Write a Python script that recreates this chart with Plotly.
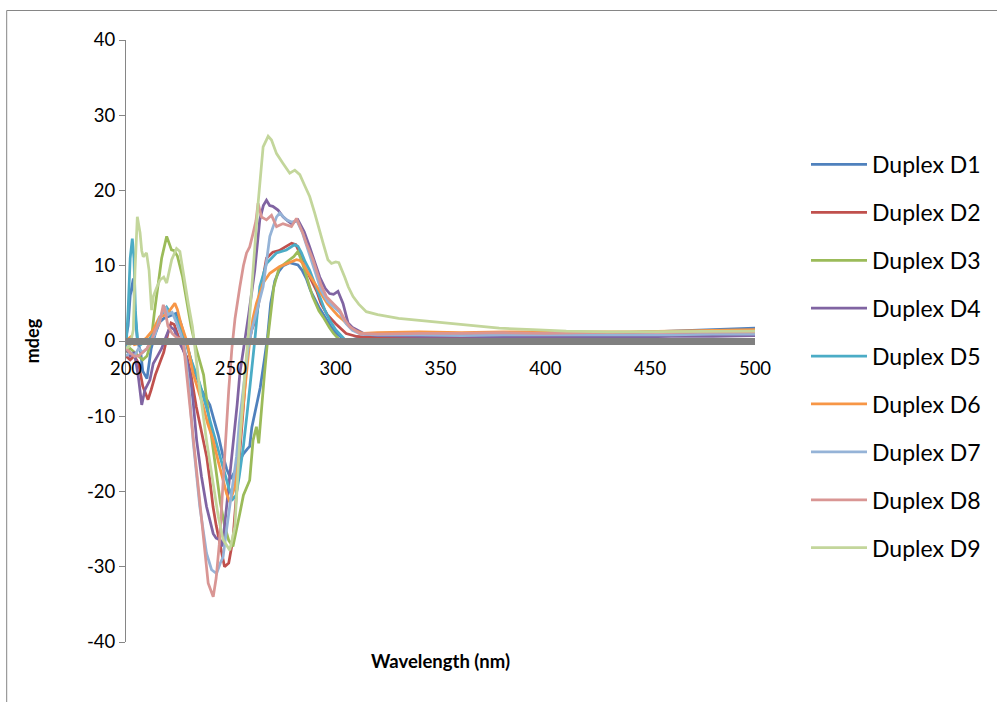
import plotly.graph_objects as go

series_names = ["Duplex D1", "Duplex D2", "Duplex D3", "Duplex D4", "Duplex D5",
                "Duplex D6", "Duplex D7", "Duplex D8", "Duplex D9"]
series_colors = ["#4F81BD", "#C0504D", "#9BBB59", "#8064A2", "#4BACC6",
                 "#F79646", "#95B3D7", "#D99694", "#C3D69B"]

x_ticks = [200, 250, 300, 350, 400, 450, 500]
y_ticks = [-40, -30, -20, -10, 0, 10, 20, 30, 40]

wl_d1 = [200, 201, 202, 203.5, 204.5, 205.5, 207, 208, 210, 211, 212, 214, 216, 218, 220, 222, 224, 226, 228, 230,
         232, 234, 236, 238, 240, 242, 244, 246, 248, 250, 252, 254, 256, 258, 259, 260, 262, 264, 266, 267.5,
         269, 271, 273, 275, 278, 280, 282, 284, 286, 288, 290, 292, 294, 296, 298, 300, 302, 304, 306, 310,
         320, 340, 360, 380, 400, 420, 440, 460, 480, 500]
cd_d1 = [0.5, 2, 6, 8.3, 3, 0, -1.5, -4, -5, -3, -1, 1, 2.5, 3, 3.2, 3.5, 3.7, 2.5, 0.5, -1.5,
         -3.5, -5, -6.5, -7.5, -8.5, -10.5, -12.5, -15, -17, -18.3, -17.3, -16, -15, -14.3, -14, -11.5, -9, -6.2, -2.5, 0.5,
         5, 8, 9.3, 10, 10.4, 10.2, 10.1, 9.4, 8.3, 6.7, 5.5, 4.5, 3.6, 2.7, 1.8, 1.1, 0.6, 0.2, 0.1, 0.3,
         0.5, 0.6, 0.7, 0.8, 0.9, 1.0, 1.1, 1.3, 1.5, 1.7]

wl_d2 = [200, 202, 204, 206, 208, 210.5, 212, 214, 216, 218, 220, 221.5, 223, 225, 227, 229, 231, 233.5, 236, 238.5,
         240, 241.5, 243, 245, 247, 249, 251, 252.5, 253.5, 255, 256, 258, 260, 262, 264, 265.5, 267, 270, 273, 276,
         279, 281, 283, 285, 288, 291, 293, 296, 300, 305, 310, 320, 340, 360, 380, 400, 420, 440, 460, 480, 500]
cd_d2 = [-2, -2.5, -2, -3, -6, -7.8, -6.5, -4.5, -3, -1.5, 1, 2.4, 2.2, 0.5, -1, -2.1, -4.5, -8.7, -12, -15.4,
         -18.5, -22, -24.5, -27.3, -30, -29.5, -26.4, -21, -17.6, -12.5, -8.7, -1, 1.5, 3, 6, 8.5, 11, 11.8, 12, 12.5,
         13, 12.8, 11.6, 10, 8.2, 6.6, 5, 3.5, 2.3, 1.0, 0.6, 0.4, 0.4, 0.5, 0.5, 0.6, 0.7, 0.7, 0.8, 0.9, 1.0]

wl_d3 = [200, 202, 204, 206, 208, 210, 212, 213.5, 215, 217, 219.4, 220.5, 221.7, 223, 224.5, 227, 229, 231, 233, 235,
         237, 239, 241, 243, 245, 247, 249, 251, 252.5, 254.3, 256, 257.5, 259, 260.6, 262.2, 263.3, 264.6, 266, 267.5, 269,
         270.5, 273, 276, 278, 280, 282, 284, 286, 289, 292, 294, 297, 299, 302, 305, 310, 320, 340, 360, 380,
         400, 420, 440, 460, 480, 500]
cd_d3 = [-1.5, -1, -1.5, -2, -2.5, -2, 0, 3.7, 7, 11, 13.9, 13, 12.1, 12, 11.3, 8.5, 5, 2, -0.5, -2.5,
         -4.5, -9, -13, -17.5, -21.5, -24.5, -26.5, -27.3, -25.5, -22.9, -20.5, -19.4, -18.5, -13.2, -11.4, -13.6, -8.7, -4.5, 0, 4,
         7.2, 9.7, 10.4, 10.8, 11.2, 11.9, 10.5, 8.6, 5.9, 4, 3.2, 1.8, 1.0, 0.1, -0.2, -0.2, -0.1, -0.2, -0.1, 0.0,
         -0.1, 0.0, -0.1, 0.0, 0.1, 0.0]

wl_d4 = [200, 202, 204, 206, 207.5, 209, 211.4, 213, 215, 217, 219, 221, 223, 225, 227, 229, 230.5, 232, 233.7, 236,
         238.4, 240, 241.6, 243, 244.8, 246, 248, 249.5, 251, 253, 254.3, 256.7, 258.5, 261.4, 263.8, 265.5, 267, 268.5, 270, 272.5,
         274.9, 277, 278.9, 282, 285, 287.6, 290, 292.4, 295, 297.1, 299, 301.1, 303.5, 305.9, 308, 310, 314, 320, 340, 360,
         380, 400, 420, 440, 460, 480, 500]
cd_d4 = [-1, -2, -1.5, -5, -8.5, -6.5, -5.2, -3, -2, -1, 0.5, 1.9, 1.5, 0, -1, -2.5, -4.3, -8, -13.2, -18,
         -22, -24, -25.6, -26.2, -26.4, -27.3, -22, -17.5, -13.2, -8.5, -4.3, 0, 3.5, 9.4, 16.1, 18, 18.7, 18, 17.9, 17.4,
         16.5, 16, 15.6, 16.1, 14.5, 12.5, 10.5, 8.5, 7, 6.3, 6.2, 6.6, 5, 2.4, 1.8, 1.5, 0.9, 0.7, 0.6, 0.6,
         0.5, 0.5, 0.6, 0.5, 0.6, 0.6, 0.7]

wl_d5 = [200, 201, 202, 203, 203.8, 204.5, 205.5, 207, 209, 211, 213, 215, 217, 219.4, 221, 223, 225, 227, 229, 231,
         233, 235, 237, 239, 241, 243, 245, 247, 249, 251, 252.5, 254, 256, 258, 260, 261.5, 263.8, 267, 271.8, 276.5,
         280.5, 282, 283.7, 285.5, 287.6, 290, 292.4, 295, 297.1, 300, 302, 305, 308, 312, 320, 340, 360, 380, 400, 420,
         440, 460, 480, 500]
cd_d5 = [-1, 4, 11, 13.6, 11, 4, 0, -0.5, 0, 0.2, 1, 2, 3.5, 4.5, 3.8, 3.5, 2.5, 1, -0.5, -2.5,
         -4, -5.5, -7.5, -9.5, -11.5, -13.5, -15.5, -17.5, -19.5, -21, -20.5, -18, -14, -9, -4, 0.3, 7.2, 10.3, 11.7, 12.1,
         12.8, 12.6, 11.7, 10.5, 9.4, 7.6, 5.9, 4, 2.8, 1.5, 0.9, 0, -0.3, -0.3, -0.2, -0.3, -0.2, -0.2, -0.1, -0.2,
         -0.1, -0.1, 0.0, 0.1]

wl_d6 = [200, 202, 204, 206.7, 208, 210, 213, 216, 219.4, 221, 223.3, 224.5, 226, 228, 229, 232, 234.5, 236.8, 239, 241.6,
         244, 246.3, 248, 249.5, 251.9, 254.3, 256.7, 259, 260.5, 262.2, 265.4, 268.6, 273.3, 278.1, 281.3, 283, 284.4, 286.5, 289.2, 291.5,
         293.9, 296, 298.7, 301, 303.5, 306, 308.2, 313, 320, 340, 360, 380, 400, 420, 440, 460, 480, 500]
cd_d6 = [0, 0.5, -0.5, -0.3, 0, 0.5, 1.5, 3.2, 3.5, 4.1, 5.0, 4.2, 2.5, 0.8, 0, -4.3, -6.5, -8.7, -11, -13.2,
         -16, -18.5, -20.3, -21.4, -19.4, -13.2, -6.5, 0, 3, 5, 7.7, 9, 9.9, 10.5, 10.8, 10.7, 10.3, 9.2, 8.1, 7,
         5.9, 5, 4.1, 3.4, 2.8, 2.1, 1.5, 1.0, 1.1, 1.2, 1.1, 1.2, 1.2, 1.1, 1.2, 1.3, 1.4, 1.5]

wl_d7 = [200, 202, 204, 206, 208, 210, 212, 214, 216, 218.6, 220, 222, 224, 226, 228, 230, 232, 233.5, 235.2, 237,
         238.4, 240.8, 243.2, 245, 246.3, 248, 249.5, 251, 252.7, 254, 255.9, 258.2, 260, 262, 265.4, 268.6, 271.8, 273.3, 276.5, 279,
         281.5, 284, 287, 290, 293, 296, 299, 302, 305, 308, 312, 320, 340, 360, 380, 400, 420, 440, 460, 480, 500]
cd_d7 = [-2, -1.5, -2, -1, -1.5, -1, 0, 1, 3, 4.6, 3.5, 3.8, 2.5, 1, -1, -6, -13.2, -17.5, -22, -25.5,
         -28.2, -30.4, -30.9, -29.5, -28.7, -25, -22, -18.5, -15.4, -11, -6.5, -1, 1.5, 3.5, 7.2, 13.9, 16.5, 17, 16.1, 15.8,
         16, 14.5, 12, 9.3, 6.8, 5.3, 4.6, 3.8, 2.3, 1.4, 0.9, 0.8, 0.8, 0.7, 0.8, 0.8, 0.7, 0.8, 0.8, 0.9, 0.9]

wl_d8 = [200, 202, 204, 206, 208, 210, 212, 214, 216, 217.8, 219, 220, 222, 224, 226, 227.3, 230.5, 233.7, 236.8, 239.2,
         241.6, 243, 244.5, 246, 247.5, 249, 250.5, 252, 254.3, 256, 257.5, 259, 260.6, 262, 263, 264.6, 267, 269.4, 271.8, 274.9,
         278.9, 281.3, 284.4, 286, 289.2, 291, 293, 295.6, 298.7, 301.9, 304, 306.7, 311.4, 320, 340, 360, 380, 400, 420, 440,
         460, 480, 500]
cd_d8 = [-1, -1.6, -2, -2, -1.5, -1, 0, 1.5, 2.4, 4.8, 3.5, 2, 1, 0.5, 0.3, 0, -8.7, -17.6, -26.4, -32.2,
         -34, -31.5, -27, -20, -13, -6.5, -1, 3, 7.2, 10, 11.7, 12.5, 14.3, 16, 18.3, 16.5, 16.1, 16.7, 15.2, 15.6,
         15.2, 16.3, 14.3, 13, 10.8, 9.2, 7.5, 5.9, 5.0, 4.1, 3, 1.9, 1.0, 0.9, 1.0, 1.0, 1.1, 1.0, 1.1, 1.1,
         1.1, 1.2, 1.2]

wl_d9 = [200, 202, 203.5, 204.3, 205.4, 206.7, 207.5, 208.2, 209.8, 211, 212.2, 213, 214.5, 216.2, 218, 219.4, 221.8, 224.1, 225.7, 227.5,
         229.7, 231.7, 232.5, 235.2, 238.4, 241.6, 244, 246.3, 249.5, 251.9, 254.3, 256.7, 258.2, 260.6, 263, 265.4, 267.8, 269.4, 271.8, 274.9,
         278.1, 280.5, 282.9, 285, 287.6, 290, 292.4, 294, 296.3, 298, 300, 301.5, 304.3, 306, 308.3, 311, 314.6, 320, 330, 346,
         362, 378, 394, 410, 430, 450, 470, 485, 500]
cd_d9 = [-1, -0.5, 1.5, 9.4, 16.5, 14.4, 12, 11.2, 11.7, 9.4, 4.1, 5.9, 7, 8.1, 8.5, 7.7, 10.8, 12.3, 11.9, 8.5,
         5, 1.9, 0, -6.5, -13.2, -18.9, -23.3, -26.4, -27.8, -24.7, -13.2, -4.3, 0.3, 9.4, 18.3, 25.8, 27.2, 26.7, 24.9, 23.6,
         22.3, 22.7, 22.1, 20.8, 19.2, 17, 14.8, 13, 10.8, 10.3, 10.5, 10.4, 8.5, 7.2, 5.9, 4.9, 3.9, 3.5, 3.0, 2.6,
         2.1, 1.7, 1.5, 1.3, 1.2, 1.2, 1.2, 1.3, 1.3]

wavelengths = [wl_d1, wl_d2, wl_d3, wl_d4, wl_d5, wl_d6, wl_d7, wl_d8, wl_d9]
ellipticity = [cd_d1, cd_d2, cd_d3, cd_d4, cd_d5, cd_d6, cd_d7, cd_d8, cd_d9]

FONT = "Lato, 'Open Sans', sans-serif"
GRID = "#868686"

fig = go.Figure()
for name, color, wl, cd in zip(series_names, series_colors, wavelengths, ellipticity):
    fig.add_trace(go.Scatter(
        x=wl, y=cd, name=name, mode="lines", legendgroup=name,
        line=dict(color=color, width=2.75),
    ))

W, H = 997, 702
L, R, T, B = 126, 241, 40, 60
pw, ph = W - L - R, H - T - B


def fx(px):
    return (px - L) / pw


def fy(py):
    return (H - B - py) / ph


fig.update_layout(
    width=W, height=H,
    margin=dict(l=L, r=R, t=T, b=B, pad=0),
    paper_bgcolor="white", plot_bgcolor="white",
    font=dict(family=FONT, color="black", size=18),
    showlegend=True,
    legend=dict(
        x=fx(806), y=fy(143), xanchor="left", yanchor="top",
        font=dict(family=FONT, size=23, color="black"),
        itemwidth=56, tracegroupgap=15,
        bgcolor="rgba(0,0,0,0)", borderwidth=0,
    ),
    xaxis=dict(
        range=[200, 500], tickvals=x_ticks, ticktext=[str(v) for v in x_ticks],
        anchor="free", position=0.5,
        showline=True, linecolor="#808080", linewidth=7,
        ticks="outside", ticklen=8, tickcolor="rgba(0,0,0,0)",
        showgrid=False, zeroline=False,
        tickfont=dict(family=FONT, size=18.5, color="black"),
    ),
    yaxis=dict(
        range=[-40, 40], tickvals=y_ticks, ticktext=[str(v) for v in y_ticks],
        showline=True, linecolor=GRID, linewidth=1,
        ticks="outside", ticklen=6, tickcolor=GRID, tickwidth=1,
        showgrid=False, zeroline=False,
        tickfont=dict(family=FONT, size=18.5, color="black"),
        title=dict(text="<b>mdeg</b>", font=dict(family=FONT, size=18, color="black"), standoff=42),
    ),
    annotations=[dict(
        text="<b>Wavelength (nm)</b>", xref="paper", yref="paper",
        x=0.5, y=fy(661), xanchor="center", yanchor="middle", showarrow=False,
        font=dict(family=FONT, size=18.5, color="black"),
    )],
    shapes=[dict(
        type="rect", xref="paper", yref="paper",
        x0=fx(6.5), x1=fx(1010), y0=fy(720), y1=fy(10.5),
        line=dict(color=GRID, width=1), fillcolor="rgba(0,0,0,0)", layer="below",
    )],
)

fig.write_html("out.html")
